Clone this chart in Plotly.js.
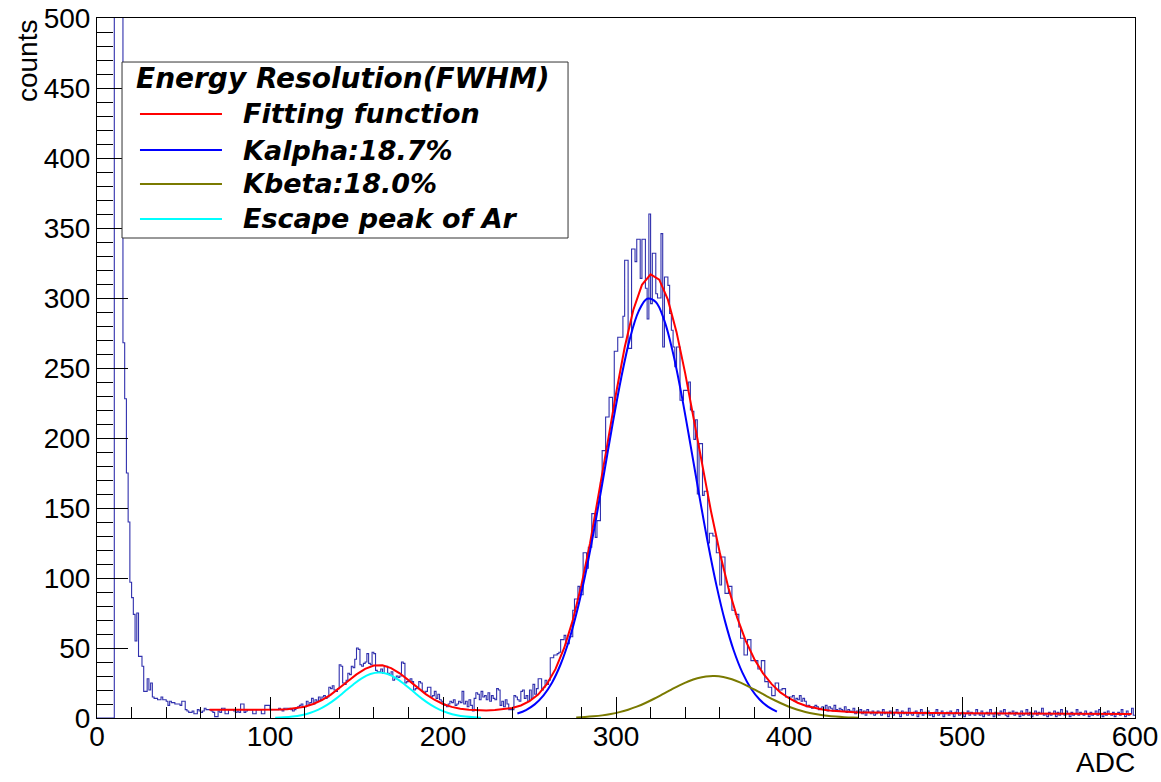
<!DOCTYPE html>
<html><head><meta charset="utf-8">
<script src="https://cdn.plot.ly/plotly-3.0.1.min.js"></script>
<style>html,body{margin:0;padding:0;background:#fff}#chart{width:1161px;height:782px}</style>
</head><body><div id="chart"></div>
<script>
// Histogram: 1-ADC bins from 0 to 600
const binStart = 0;
const binWidth = 1;
const counts = [
0,0,0,0,0,0,0,0,0,0,
800,2100,2600,1600,900,268,228,175,140,97,
86,74,55,75,44,44,37,19,19,28,
20,25,15,14,14,13,13,15,13,13,
12,9,12,11,11,10,10,10,9,12,
12,6,5,4,4,5,3,3,6,5,
4,5,7,6,6,6,5,4,1,1,
5,4,7,7,3,3,6,6,6,5,
4,5,4,10,10,4,5,6,6,6,
3,3,6,6,6,3,3,9,9,9,
6,6,6,6,6,7,6,5,7,7,
7,7,6,5,6,7,8,9,10,8,
8,12,9,11,14,10,13,12,15,13,
15,16,14,15,22,21,23,20,19,21,
38,37,25,24,27,32,31,37,36,42,
50,49,38,37,39,40,46,39,38,47,
46,34,33,33,35,32,37,37,32,31,
33,27,28,30,29,30,40,39,25,26,
27,28,26,20,21,22,26,25,19,18,
19,22,22,15,16,19,14,17,13,12,
10,9,8,10,12,11,13,9,10,12,
11,19,10,12,8,13,9,5,14,18,
17,13,19,15,16,13,18,12,16,14,
13,21,20,9,12,8,13,10,6,6,
6,16,15,13,12,19,20,14,16,12,
20,14,24,17,21,28,28,20,22,27,
24,27,43,43,45,45,46,47,56,56,
59,53,53,58,58,77,85,85,94,88,
88,118,118,107,122,122,146,146,129,141,
141,168,191,191,215,215,229,229,218,262,
262,272,272,272,287,327,327,264,264,335,
335,326,342,342,314,342,342,307,285,360,
296,332,332,303,300,300,346,265,315,315,
309,289,277,265,251,265,265,227,227,234,
234,234,240,220,219,199,213,160,196,196,
159,162,162,125,132,132,130,130,118,118,
95,115,115,89,89,94,94,77,77,74,
74,65,57,57,45,45,56,56,41,41,
41,41,35,35,41,41,26,26,22,22,
16,16,25,25,20,20,21,21,15,15,
15,15,16,12,14,13,16,12,14,12,
8,9,8,7,8,9,8,6,7,8,
6,9,5,8,7,5,9,6,5,7,
6,5,8,4,6,5,4,7,3,5,
4,6,3,5,2,6,4,3,5,2,
3,5,4,2,6,3,4,1,5,3,
2,4,6,3,1,5,3,4,2,7,
3,2,4,5,1,3,6,2,4,3,
5,2,3,1,4,6,2,3,5,1,
3,4,2,5,3,1,4,6,2,3,
4,1,3,5,2,4,3,2,6,3,
2,5,1,3,4,2,6,3,1,4,
3,2,5,3,6,2,1,4,3,5,
2,4,3,1,5,2,3,6,2,4,
1,3,5,2,4,3,7,2,3,1,
4,2,3,5,1,4,2,6,3,2,
5,3,1,4,2,3,6,2,4,3,
2,5,3,1,4,2,3,5,2,6,
3,1,4,2,5,3,2,4,1,3,
4,2,6,3,1,5,2,3,7,2
];

// Total fitting function (red)
const fitX = [65,70,75,80,85,90,95,100,105,110,115,120,125,130,135,140,145,150,155,160,165,170,175,180,185,190,195,200,205,210,215,220,225,230,235,240,245,250,255,260,265,270,275,280,285,290,295,300,305,310,315,320,325,330,335,340,345,350,355,360,365,370,375,380,385,390,395,400,405,410,415,420,425,430,435,440,445,450,455,460,465,470,475,480,485,490,495,500,505,510,515,520,525,530,535,540,545,550,555,560,565,570,575,580,585,590,595,598];
const fitY = [5.92,5.89,5.87,5.84,5.82,5.80,5.80,5.85,6.00,6.32,6.97,8.11,9.98,12.74,16.49,21.11,26.21,31.15,35.14,37.47,37.66,35.68,31.91,27.04,21.85,17.04,13.04,10.02,7.93,6.63,5.88,5.52,5.44,5.64,6.14,7.14,8.94,11.95,16.77,24.14,34.89,49.83,69.72,94.79,124.85,159.0,195.4,231.6,264.6,291.4,309.4,316.9,313.1,298.8,275.6,246.2,213.2,179.4,147.1,118.0,92.9,71.9,55.1,42.0,31.9,24.2,18.3,14.1,10.9,8.62,7.0,5.86,5.09,4.57,4.22,4.0,3.86,3.77,3.70,3.65,3.60,3.57,3.55,3.52,3.49,3.46,3.43,3.40,3.37,3.34,3.31,3.28,3.26,3.23,3.20,3.17,3.14,3.11,3.08,3.05,3.02,2.99,2.97,2.94,2.91,2.88,2.85,2.83];

// K-alpha component (blue)
const kalphaX = [243,248,253,258,263,268,273,278,283,288,293,298,303,308,313,318,323,328,333,338,343,348,353,358,363,368,373,378,383,388,393];
const kalphaY = [3.21,5.70,9.74,15.99,25.25,38.39,56.12,78.96,106.8,139.0,174.1,209.7,242.9,270.8,290.3,299.5,297.2,283.7,260.5,230.1,195.5,159.8,125.7,95.1,69.2,48.4,32.6,21.1,13.2,7.90,4.55];

// K-beta component (olive)
const kbetaX = [277,282,287,292,297,302,307,312,317,322,327,332,337,342,347,352,357,362,367,372,377,382,387,392,397,402,407,412,417,422,427,432,437,440];
const kbetaY = [0.44,0.74,1.20,1.88,2.86,4.18,5.93,8.11,10.73,13.74,17.0,20.33,23.51,26.28,28.40,29.68,29.98,29.28,27.65,25.24,22.27,19.0,15.67,12.50,9.64,7.18,5.18,3.61,2.43,1.58,1.0,0.61,0.36,0.26];

// Escape peak of Ar (cyan)
const escX = [103,108,113,118,123,128,133,138,143,148,153,158,163,168,173,178,183,188,193,198,203,208,213,218,222];
const escY = [0.22,0.49,1.02,1.97,3.54,5.96,9.34,13.68,18.68,23.80,28.30,31.39,32.5,31.39,28.30,23.80,18.68,13.68,9.34,5.96,3.54,1.97,1.02,0.49,0.26];

// Legend texts
const legendTitle = 'Energy Resolution(FWHM)';
const legendLabels = ['Fitting function', 'Kalpha:18.7%', 'Kbeta:18.0%', 'Escape peak of Ar'];
const legendColors = ['#ff0000', '#0000ff', '#7a7a00', '#00ffff'];

const xTitle = 'ADC';
const yTitle = 'counts';

// step histogram built from bin edges
const histX = counts.map((_, i) => binStart + i * binWidth);
histX.push(binStart + counts.length * binWidth);
const histY = counts.concat([counts[counts.length - 1]]);

const traces = [
  {x: histX, y: histY, type: 'scatter', mode: 'lines', line: {shape: 'hv', color: '#3030ad', width: 1.1}, hoverinfo: 'skip'},
  {x: fitX, y: fitY, type: 'scatter', mode: 'lines', line: {color: legendColors[0], width: 2}, name: legendLabels[0]},
  {x: kalphaX, y: kalphaY, type: 'scatter', mode: 'lines', line: {color: legendColors[1], width: 2, shape: 'spline'}, name: legendLabels[1]},
  {x: kbetaX, y: kbetaY, type: 'scatter', mode: 'lines', line: {color: legendColors[2], width: 2, shape: 'spline'}, name: legendLabels[2]},
  {x: escX, y: escY, type: 'scatter', mode: 'lines', line: {color: legendColors[3], width: 2, shape: 'spline'}, name: legendLabels[3]}
];

// custom ROOT-like legend box (paper coordinates)
const L = {x0: 0.0241, x1: 0.4538, y0: 0.6857, y1: 0.9371};
const itemY = [0.8629, 0.8114, 0.7629, 0.7129];
const shapes = [
  {type: 'rect', xref: 'paper', yref: 'paper', x0: L.x0, x1: L.x1, y0: L.y0, y1: L.y1,
   fillcolor: 'white', line: {color: '#333', width: 1}, layer: 'above'}
];
const annotations = [
  {xref: 'paper', yref: 'paper', x: 0.0356, y: 0.9129, xanchor: 'left', yanchor: 'middle', showarrow: false,
   text: '<b><i>' + legendTitle + '</i></b>', font: {family: 'DejaVu Sans', size: 28, color: 'black'}}
];
legendLabels.forEach((lab, i) => {
  shapes.push({type: 'line', xref: 'paper', yref: 'paper', x0: 0.0414, x1: 0.1204, y0: itemY[i], y1: itemY[i],
               line: {color: legendColors[i], width: 2}, layer: 'above'});
  annotations.push({xref: 'paper', yref: 'paper', x: 0.1384, y: itemY[i], xanchor: 'left', yanchor: 'middle', showarrow: false,
                    text: '<b><i>' + lab + '</i></b>', font: {family: 'DejaVu Sans', size: 27, color: 'black'}});
});
annotations.push({xref: 'paper', yref: 'paper', x: 1.002, y: -0.0885, xanchor: 'right', yanchor: 'bottom', showarrow: false,
                  text: xTitle, font: {size: 28, color: 'black'}});
annotations.push({xref: 'paper', yref: 'paper', x: -0.0675, y: 1.002, xanchor: 'center', yanchor: 'top', showarrow: false,
                  textangle: -90, text: yTitle, font: {size: 28, color: 'black'}});

const layout = {
  width: 1161, height: 782,
  margin: {l: 97, r: 26, t: 18, b: 64, pad: 0},
  paper_bgcolor: 'white', plot_bgcolor: 'white',
  font: {family: 'Liberation Sans, Arial, sans-serif', size: 28, color: 'black'},
  showlegend: false,
  xaxis: {range: [0, 600], showgrid: false, zeroline: false, showline: true, mirror: true,
          linecolor: 'black', linewidth: 1, ticks: 'inside', ticklen: 21, tickwidth: 1, tickcolor: 'black',
          tick0: 0, dtick: 100, tickfont: {size: 28}, ticklabelstandoff: -7,
          minor: {tick0: 0, dtick: 20, ticks: 'inside', ticklen: 11, tickwidth: 1, tickcolor: 'black', showgrid: false}},
  yaxis: {range: [0, 500], showgrid: false, zeroline: false, showline: true, mirror: true,
          linecolor: 'black', linewidth: 1, ticks: 'inside', ticklen: 31, tickwidth: 1, tickcolor: 'black',
          tick0: 0, dtick: 50, tickfont: {size: 28},
          minor: {tick0: 0, dtick: 10, ticks: 'inside', ticklen: 16, tickwidth: 1, tickcolor: 'black', showgrid: false}},
  shapes: shapes,
  annotations: annotations
};

Plotly.newPlot('chart', traces, layout, {displayModeBar: false, staticPlot: true});
</script>
</body></html>
